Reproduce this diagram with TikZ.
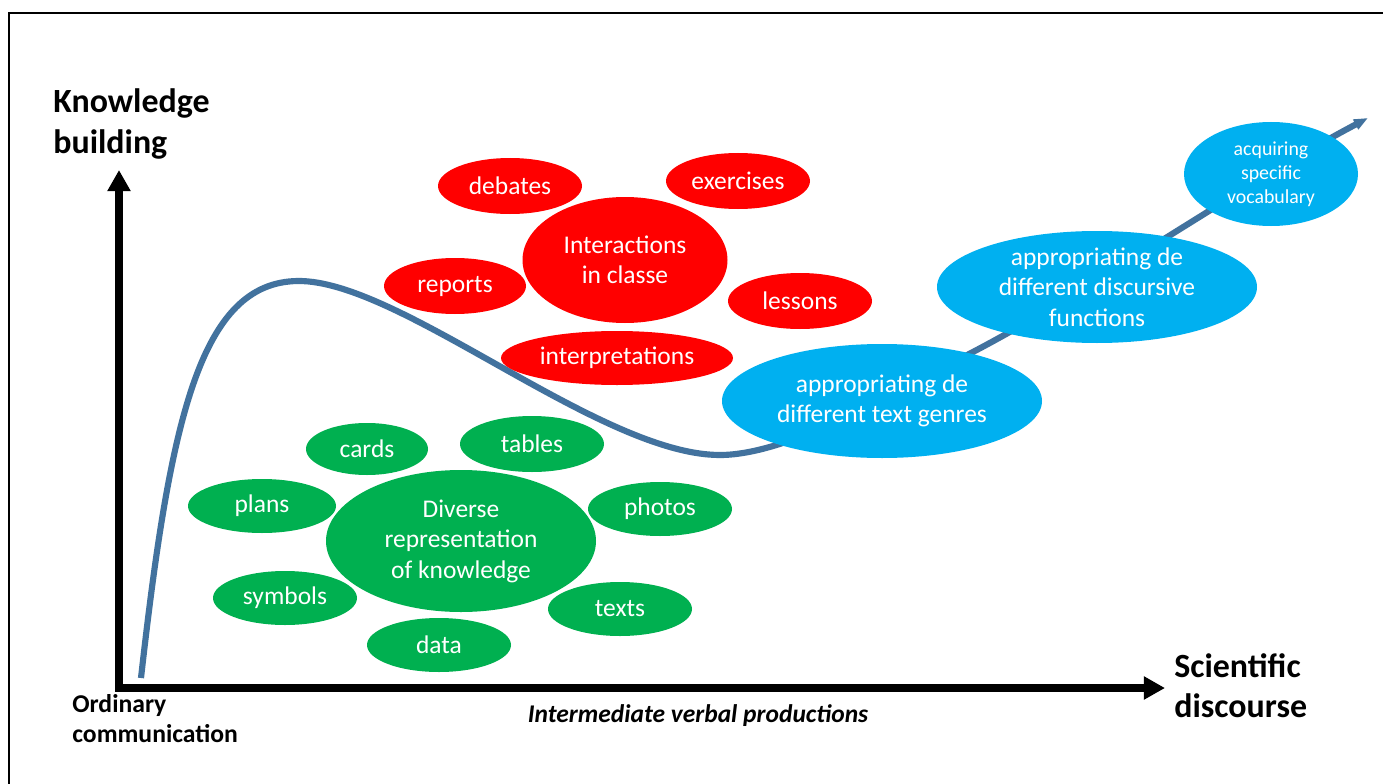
\documentclass[tikz,border=0pt]{standalone}
\usepackage{fontspec}
\setmainfont{Carlito}
\usepackage{xcolor}
\usetikzlibrary{arrows.meta,shapes.geometric}
\definecolor{bubred}{RGB}{255,0,0}
\definecolor{bubgreen}{RGB}{0,176,80}
\definecolor{bubblue}{RGB}{0,176,240}
\definecolor{curveblue}{RGB}{66,114,158}
\begin{document}
\begin{tikzpicture}[x=0.02cm, y=-0.02cm,
  bubsize/.style 2 args={minimum width=#1*0.02cm, minimum height=#2*0.02cm},
  bubble/.style={ellipse, inner sep=0pt, text=white, align=center, font=\fontsize{14.5}{17.4}\selectfont},
  redbub/.style={bubble, fill=bubred},
  greenbub/.style={bubble, fill=bubgreen},
  bluebub/.style={bubble, fill=bubblue},
  axislabel/.style={font=\fontsize{19.3}{22.8}\selectfont\bfseries, align=left, inner sep=0pt, anchor=west}]
\useasboundingbox (0,0) rectangle (1383,784);
\fill[white] (0,0) rectangle (1383,784);
\draw[line width=1.2pt] (9,784) -- (9,13) -- (1383,13);
\coordinate (ytip) at (119,170);
\coordinate (origin) at (119,688);
\coordinate (xtip) at (1165,688);
\draw[line width=4pt, {Triangle[length=12pt,width=12.5pt]}-{Triangle[length=12pt,width=12.5pt]}] (ytip) -- (origin) -- (xtip);
\draw[curveblue, line width=3.5pt, -{Triangle[length=8pt,width=6pt]}] (141,678) .. controls (170,420) and (200,282) .. (298,281) .. controls (400,280) and (600,455) .. (720,455) .. controls (790,455) and (900,390) .. (971,353) .. controls (1090,291) and (1250,180) .. (1368,118);
\node[redbub, bubsize={144}{56}] (debates) at (510,186) {debates};
\node[redbub, bubsize={144}{56}] (exercises) at (738,181) {exercises};
\node[redbub, bubsize={205}{126}] (interactions) at (625,260) {Interactions\\in classe};
\node[redbub, bubsize={142}{56}] (reports) at (455,286) {reports};
\node[redbub, bubsize={144}{56}] (lessons) at (800,301) {lessons};
\node[redbub, bubsize={232}{54}] (interp) at (617,358) {interpretations};
\node[greenbub, bubsize={122}{52}] (cards) at (367,449) {cards};
\node[greenbub, bubsize={144}{56}] (tables) at (532,444) {tables};
\node[greenbub, bubsize={148}{54}] (plans) at (262,506) {plans};
\node[greenbub, bubsize={270}{142}] (diverse) at (461,541) {Diverse\\representation\\of knowledge};
\node[greenbub, bubsize={144}{54}] (photos) at (660,509) {photos};
\node[greenbub, bubsize={144}{54}] (symbols) at (285,598) {symbols};
\node[greenbub, bubsize={144}{54}] (texts) at (620,609) {texts};
\node[greenbub, bubsize={144}{54}] (data) at (439,645) {data};
\node[bluebub, bubsize={320}{114}] (genres) at (882,401) {appropriating de\\different text genres};
\node[bluebub, bubsize={320}{112}] (functions) at (1097,287) {appropriating de\\different discursive\\functions};
\node[bluebub, bubsize={174}{104}, font=\fontsize{11.3}{13.6}\selectfont] (vocab) at (1271,174) {acquiring\\specific\\vocabulary};
\node[axislabel] (knowledge) at (53,124) {Knowledge\\building};
\node[axislabel] (scientific) at (1174,686) {Scientific\\discourse};
\node[axislabel, font=\fontsize{14.6}{17}\selectfont\bfseries] (ordinary) at (72,719) {Ordinary\\communication};
\node[anchor=base, inner sep=0pt, font=\fontsize{14.5}{17.4}\selectfont\bfseries\itshape] (intermediate) at (698,722) {Intermediate verbal productions};
\end{tikzpicture}
\end{document}
